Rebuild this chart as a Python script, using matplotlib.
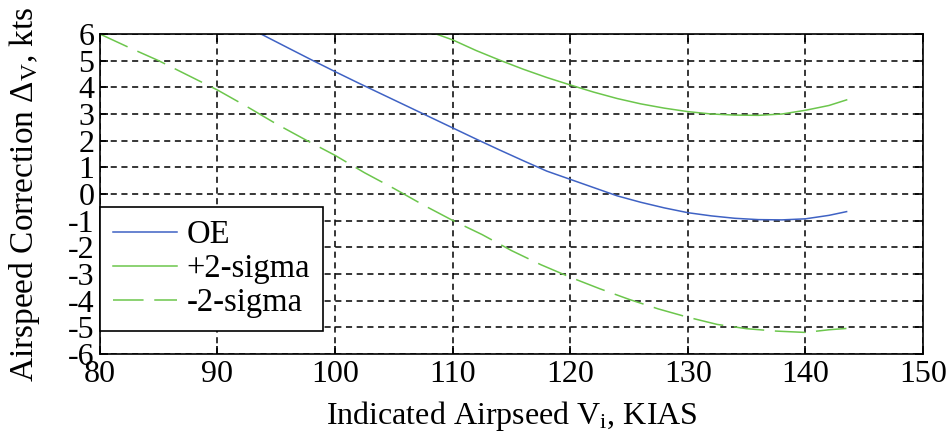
import matplotlib
matplotlib.use('Agg')
import matplotlib.pyplot as plt

plt.rcParams['font.family'] = ['Liberation Serif', 'DejaVu Serif']
plt.rcParams['mathtext.fontset'] = 'custom'
plt.rcParams['mathtext.rm'] = 'Liberation Serif'
plt.rcParams['mathtext.it'] = 'Liberation Serif:italic'
plt.rcParams['axes.unicode_minus'] = False

# OE curve
oe_x = [93.7, 96, 98, 100, 102, 104, 106, 108, 110, 112, 114, 116, 118, 120,
        122, 124, 126, 128, 130, 132, 134, 136, 138, 140, 142, 143.5]
oe_y = [6.0, 5.48, 5.03, 4.59, 4.16, 3.74, 3.32, 2.90, 2.48, 2.06, 1.65, 1.25,
        0.86, 0.55, 0.24, -0.07, -0.31, -0.52, -0.70, -0.82, -0.91, -0.96,
        -0.97, -0.93, -0.80, -0.66]

# +2-sigma curve
up_x = [108.6, 110, 112, 114, 116, 118, 120, 122, 124, 126, 128, 130, 132,
        134, 136, 138, 140, 142, 143.5]
up_y = [6.0, 5.78, 5.38, 5.02, 4.68, 4.37, 4.09, 3.82, 3.58, 3.38, 3.22, 3.09,
        3.00, 2.96, 2.95, 3.00, 3.14, 3.32, 3.53]

# -2-sigma curve
lo_x = [80, 82.5, 85, 87.5, 90, 92.5, 95, 97.5, 100, 102.5, 105, 107.5, 110,
        112.5, 115, 117.5, 120, 122.5, 125, 127.5, 130, 132.5, 135, 137.5,
        140, 142, 143.5]
lo_y = [6.0, 5.49, 5.0, 4.45, 3.90, 3.28, 2.63, 2.03, 1.45, 0.80, 0.21, -0.41,
        -0.99, -1.52, -2.12, -2.65, -3.12, -3.55, -3.95, -4.31, -4.62, -4.89,
        -5.05, -5.14, -5.19, -5.09, -5.04]

blue = '#3f62c4'
green = '#6cc64c'

fig = plt.figure(figsize=(9.51, 4.36), dpi=100)
ax = fig.add_axes([0.105, 0.188, 0.8656, 0.734])

ax.plot(oe_x, oe_y, color=blue, lw=1.1, label='OE')
ax.plot(up_x, up_y, color=green, lw=1.1, label='+2-sigma')
ax.plot(lo_x, lo_y, color=green, lw=1.1, dashes=(20, 7), label='-2-sigma')

ax.set_xlim(80, 150)
ax.set_ylim(-6, 6)
ax.set_xticks(range(80, 151, 10))
ax.set_yticks(range(-6, 7))
ax.grid(True, color='black', linestyle=(0, (4, 3)), lw=1.1)
ax.tick_params(direction='in', top=True, right=True, length=6, width=1.2,
               labelsize=23, pad=4)
for s in ax.spines.values():
    s.set_linewidth(1.2)

ax.set_xlabel(r'Indicated Airpseed V$_{\mathrm{i}}$, KIAS', fontsize=23)
ax.set_ylabel(r'Airspeed Correction $\Delta_{\mathrm{V}}$, kts', fontsize=24)
ax.xaxis.set_label_coords(0.5, -0.14)
ax.yaxis.set_label_coords(-0.07, 0.5)

leg = ax.legend(loc='lower left', bbox_to_anchor=(0, 0.072), borderaxespad=0,
                fontsize=23.5, fancybox=False, framealpha=1, edgecolor='black',
                handlelength=1.95, handletextpad=0.3, labelspacing=0.1,
                borderpad=0.4)
leg.get_frame().set_linewidth(1.2)

fig.savefig('out.png', dpi=100)
